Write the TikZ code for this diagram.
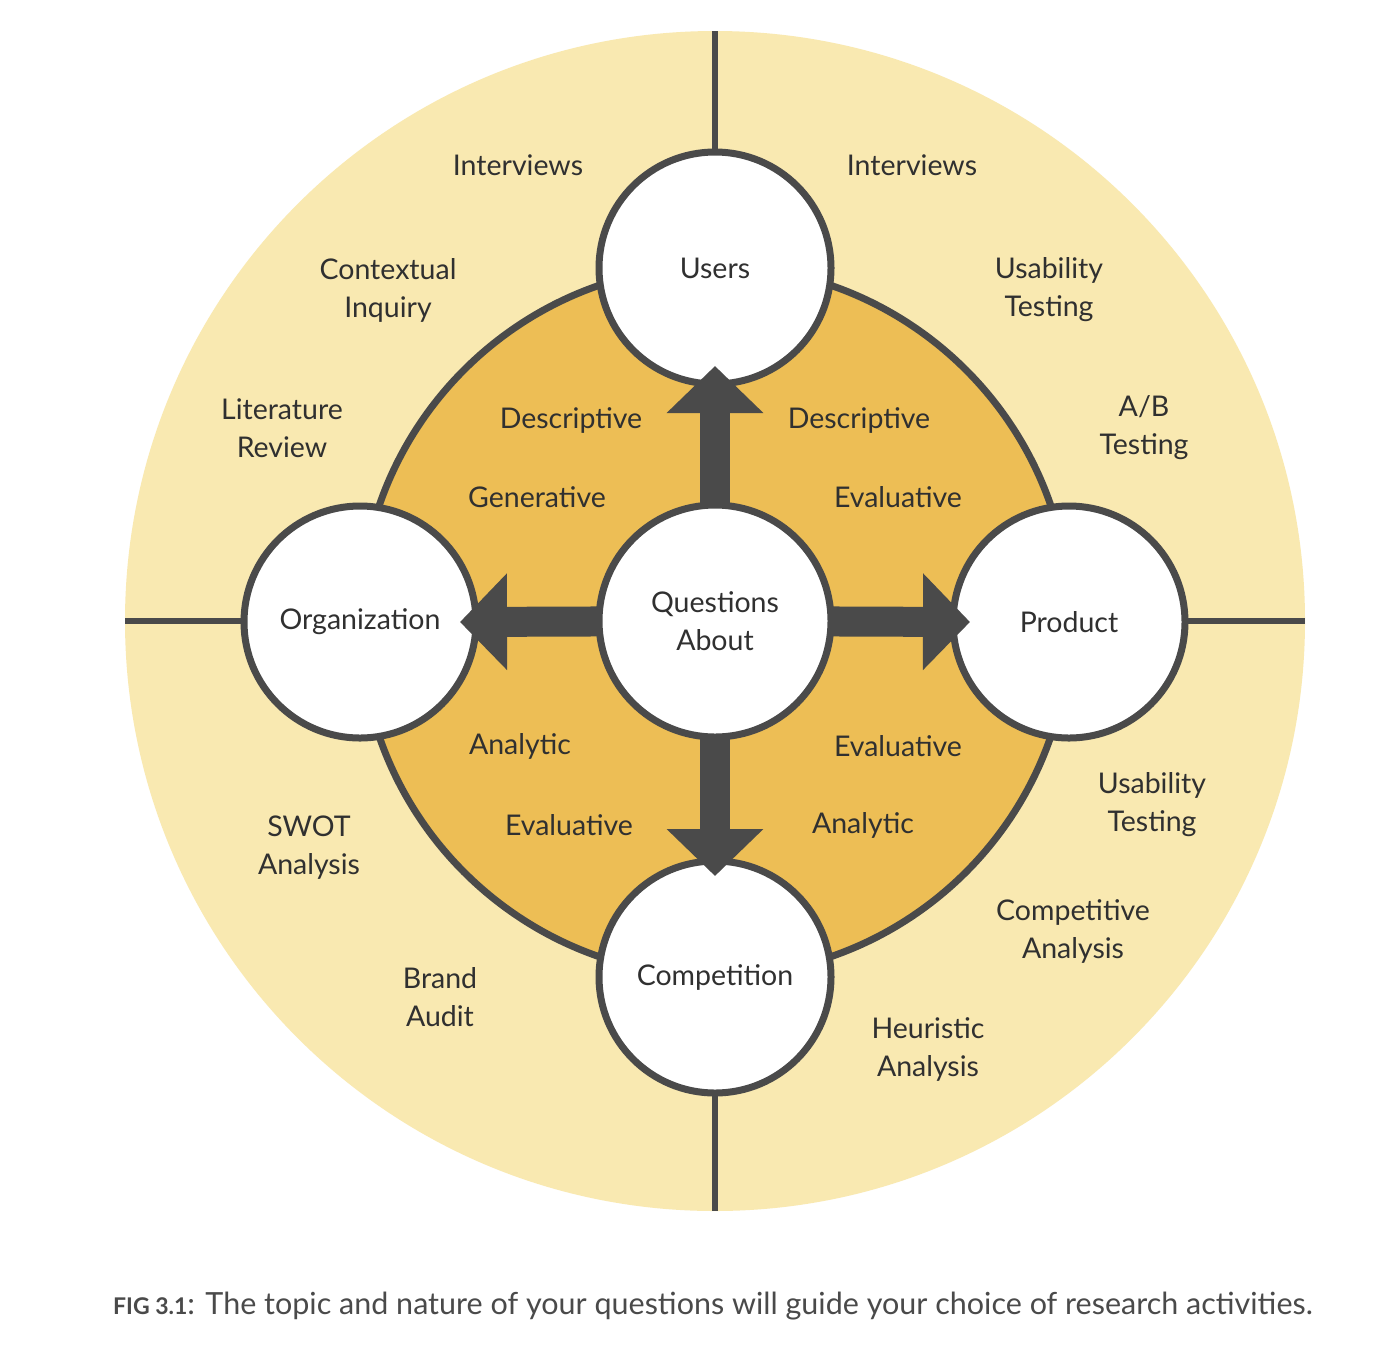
\documentclass[tikz,border=0pt]{standalone}
\usepackage{fontspec}
\setmainfont{Lato}
\usetikzlibrary{arrows.meta}
\definecolor{outerY}{HTML}{F9E9B1}
\definecolor{innerO}{HTML}{EDBE55}
\definecolor{darkG}{HTML}{4A4A4A}
\definecolor{txtG}{HTML}{303030}
\begin{document}
\begin{tikzpicture}[x=1pt,y=-1pt,
  lbl/.style={text=txtG,font=\fontsize{28.5}{38}\selectfont,align=center,inner sep=0pt},
  topic/.style={circle,draw=darkG,line width=7pt,fill=white,minimum size=232pt,inner sep=0pt,
     text=txtG,font=\fontsize{28.5}{38}\selectfont,align=center},
  divider/.style={draw=darkG,line width=6pt},
  bigarrow/.style={draw=darkG,line width=30pt,-{Triangle[width=94pt,length=47pt]}}
]
\useasboundingbox (0,0) rectangle (1384,1350);
\fill[white] (0,0) rectangle (1384,1350);
% outer ring
\fill[outerY] (715,621) circle[radius=590];
% dividers
\draw[divider] (715,31) -- (715,1211);
\draw[divider] (125,621) -- (1305,621);
% inner orange disc
\draw[fill=innerO,draw=darkG,line width=7pt] (715,621) circle[radius=355];
% satellite topics
\node[topic] (users) at (715,268) {Users};
\node[topic] (org) at (360,622) {Organization};
\node[topic] (prod) at (1069,622) {Product};
\node[topic] (comp) at (715,977) {Competition};
% arrow tips
\coordinate (tipU) at (715,366);
\coordinate (tipL) at (460,622);
\coordinate (tipR) at (970,622);
\coordinate (tipD) at (715,876);
\coordinate (qc) at (715,621);
\draw[bigarrow] (qc) -- (tipU);
\draw[bigarrow] (qc) -- (tipL);
\draw[bigarrow] (qc) -- (tipR);
\draw[bigarrow] (qc) -- (tipD);
% centre
\node[topic] (q) at (715,621) {Questions\\About};
% inner labels
\node[lbl] (d1) at (571,420) {Descriptive};
\node[lbl] (d2) at (859,420) {Descriptive};
\node[lbl] (g1) at (537,497) {Generative};
\node[lbl] (e1) at (898,497) {Evaluative};
\node[lbl] (a1) at (520,746) {Analytic};
\node[lbl] (e2) at (898,746) {Evaluative};
\node[lbl] (e3) at (569,825) {Evaluative};
\node[lbl] (a2) at (863,825) {Analytic};
% outer labels
\node[lbl] (o1) at (518,165) {Interviews};
\node[lbl] (o2) at (912,165) {Interviews};
\node[lbl] (o3) at (388,290) {Contextual\\Inquiry};
\node[lbl] (o4) at (1049,290) {Usability\\Testing};
\node[lbl] (o5) at (282,428) {Literature\\Review};
\node[lbl] (o6) at (1144,428) {A/B\\Testing};
\node[lbl] (o7) at (309,848) {SWOT\\Analysis};
\node[lbl] (o8) at (1152,805) {Usability\\Testing};
\node[lbl] (o9) at (1073,931) {Competitive\\Analysis};
\node[lbl] (o10) at (440,997) {Brand\\Audit};
\node[lbl] (o11) at (928,1049) {Heuristic\\Analysis};
% caption
\node[anchor=base west,inner sep=0pt,text=darkG,font=\fontsize{30.5}{34}\selectfont] (cap) at (113,1314)
  {{\bfseries\fontsize{23}{34}\selectfont FIG 3.1}: The topic and nature of your questions will guide your choice of research activities.};
\end{tikzpicture}
\end{document}
